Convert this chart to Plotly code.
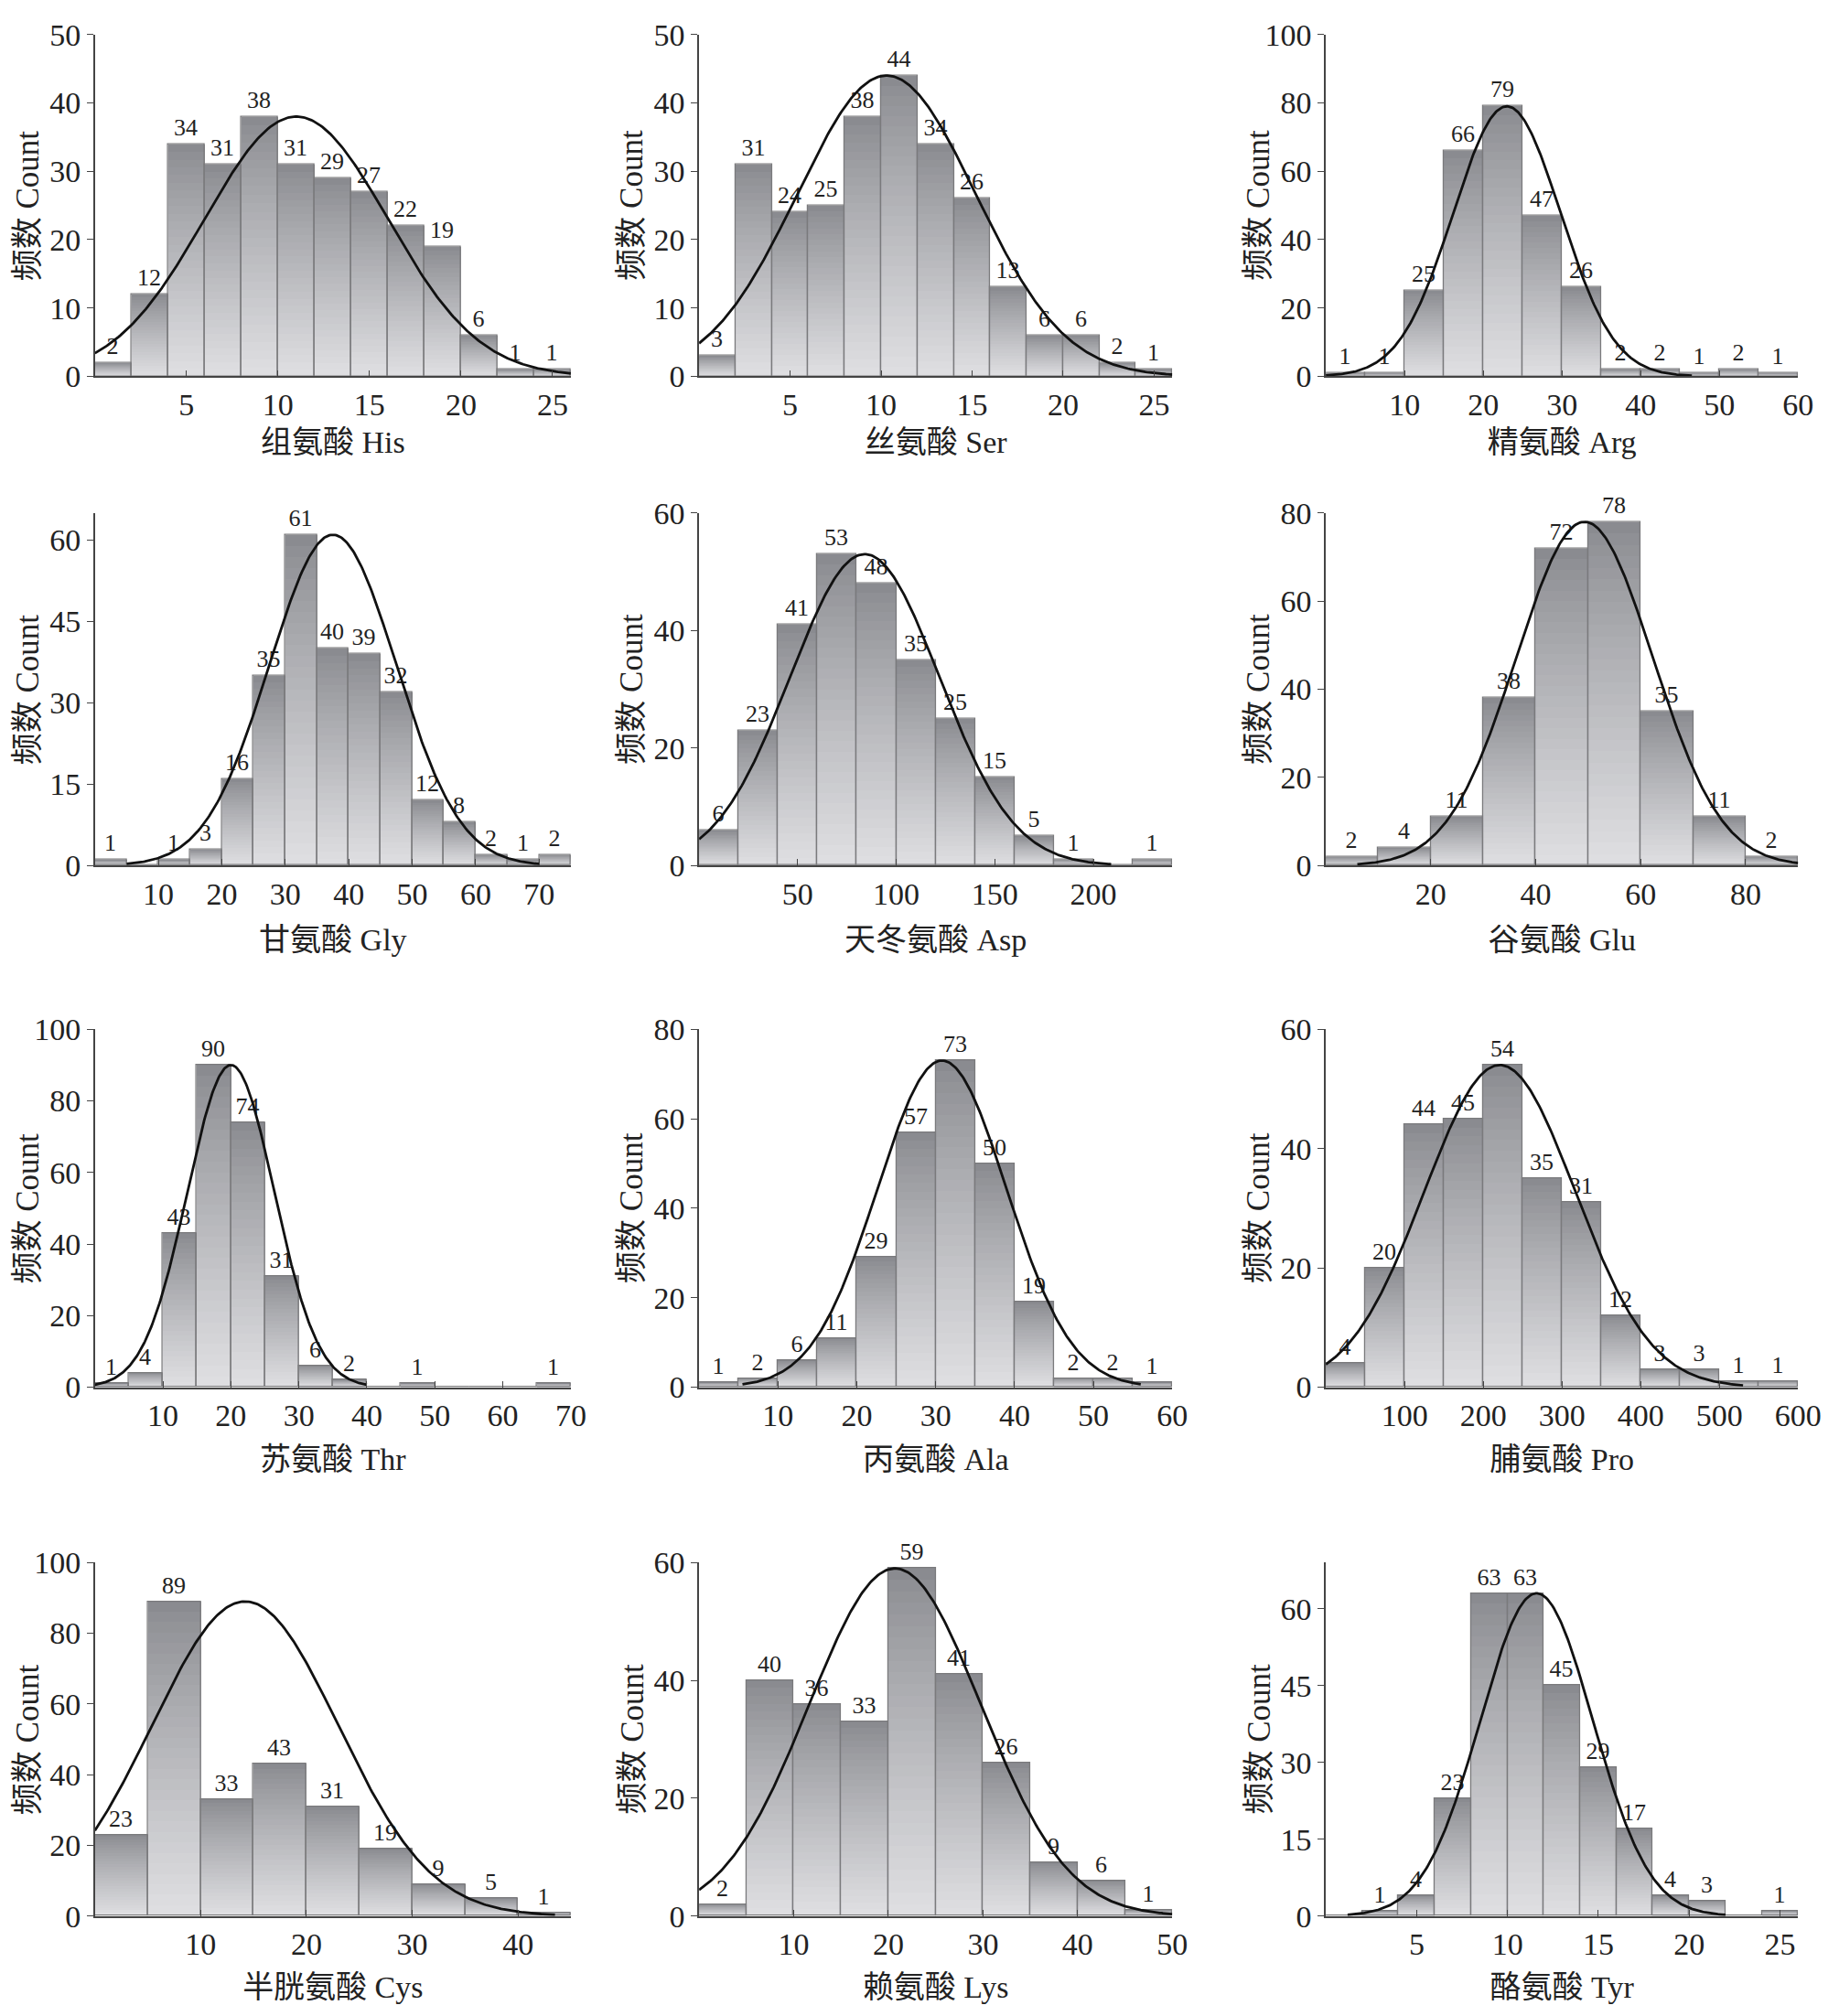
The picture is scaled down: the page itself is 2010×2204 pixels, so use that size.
import numpy as np
import plotly.graph_objects as go
from plotly.subplots import make_subplots

# counts per bin (bins start at 0)
his_counts = [2, 12, 34, 31, 38, 31, 29, 27, 22, 19, 6, 1, 1]
ser_counts = [3, 31, 24, 25, 38, 44, 34, 26, 13, 6, 6, 2, 1]
arg_counts = [1, 1, 25, 66, 79, 47, 26, 2, 2, 1, 2, 1]
gly_counts = [1, 0, 1, 3, 16, 35, 61, 40, 39, 32, 12, 8, 2, 1, 2]
asp_counts = [6, 23, 41, 53, 48, 35, 25, 15, 5, 1, 0, 1]
glu_counts = [2, 4, 11, 38, 72, 78, 35, 11, 2]
thr_counts = [1, 4, 43, 90, 74, 31, 6, 2, 0, 1, 0, 0, 0, 1]
ala_counts = [1, 2, 6, 11, 29, 57, 73, 50, 19, 2, 2, 1]
pro_counts = [4, 20, 44, 45, 54, 35, 31, 12, 3, 3, 1, 1]
cys_counts = [23, 89, 33, 43, 31, 19, 9, 5, 1]
lys_counts = [2, 40, 36, 33, 59, 41, 26, 9, 6, 1]
tyr_counts = [0, 1, 4, 23, 63, 63, 45, 29, 17, 4, 3, 0, 1]

bin_widths = [2, 2, 5, 5, 20, 10, 5, 5, 50, 5, 5, 2]

names = ["组氨酸 His", "丝氨酸 Ser", "精氨酸 Arg",
         "甘氨酸 Gly", "天冬氨酸 Asp", "谷氨酸 Glu",
         "苏氨酸 Thr", "丙氨酸 Ala", "脯氨酸 Pro",
         "半胱氨酸 Cys", "赖氨酸 Lys", "酪氨酸 Tyr"]

# normal curve drawn over each histogram: mean, sd, peak height, x start, x end
curve_mean = [11, 10.3, 23, 37.5, 84, 49.3, 20, 30.8, 221, 14.2, 20.7, 11.6]
curve_sd = [5.0, 4.9, 6.8, 10, 37.8, 13, 6.4, 8.2, 96, 8.8, 9.1, 3.1]
curve_peak = [38, 44, 79, 61, 53, 78, 90, 73, 54, 89, 59, 63]
curve_from = [0, 0, 0, 5, 0, 6, 0, 5.5, 0, 0, 0, 1.2]
curve_to = [26, 26, 46.5, 70, 209, 90, 40, 56, 530, 43.5, 50, 22]

x_max = [26, 26, 60, 75, 240, 90, 70, 60, 600, 45, 50, 26]
y_max = [50, 50, 100, 65, 60, 80, 100, 80, 60, 100, 60, 69]
x_ticks = [[5, 10, 15, 20, 25], [5, 10, 15, 20, 25], [10, 20, 30, 40, 50, 60],
           [10, 20, 30, 40, 50, 60, 70], [50, 100, 150, 200], [20, 40, 60, 80],
           [10, 20, 30, 40, 50, 60, 70], [10, 20, 30, 40, 50, 60],
           [100, 200, 300, 400, 500, 600], [10, 20, 30, 40],
           [10, 20, 30, 40, 50], [5, 10, 15, 20, 25]]
y_ticks = [[0, 10, 20, 30, 40, 50], [0, 10, 20, 30, 40, 50], [0, 20, 40, 60, 80, 100],
           [0, 15, 30, 45, 60], [0, 20, 40, 60], [0, 20, 40, 60, 80],
           [0, 20, 40, 60, 80, 100], [0, 20, 40, 60, 80], [0, 20, 40, 60],
           [0, 20, 40, 60, 80, 100], [0, 20, 40, 60], [0, 15, 30, 45, 60]]

all_counts = [his_counts, ser_counts, arg_counts, gly_counts, asp_counts, glu_counts,
              thr_counts, ala_counts, pro_counts, cys_counts, lys_counts, tyr_counts]

W, H = 2010, 2204
col_px = [(97, 624), (766, 1290), (1460, 1983)]
row_px = [(12, 392), (544, 936), (1118, 1516), (1711, 2104)]
xtitle_standoff = [11, 20, 18, 17]
YTITLE_GAP = 74

FONT = "Liberation Serif, Times New Roman, Noto Sans CJK SC, serif"
N_SEG = 30


def shade(t):
    # t = 0 at bar top (dark) .. 1 at bar bottom (light)
    top = np.array([138, 139, 144])
    bot = np.array([222, 222, 225])
    s = t ** 0.85
    c = top + (bot - top) * s
    return "rgb(%d,%d,%d)" % tuple(c.round())


fig = make_subplots(rows=4, cols=3)

for i, counts in enumerate(all_counts):
    r, c = i // 3 + 1, i % 3 + 1
    bw = bin_widths[i]
    counts = np.array(counts, dtype=float)
    centers = bw * (np.arange(len(counts)) + 0.5)

    # gradient: overlaid bars of shrinking height, darkest (tallest) first
    for k in range(N_SEG):
        frac = (N_SEG - k) / N_SEG
        fig.add_trace(go.Bar(
            x=centers, y=counts * frac, width=bw,
            marker=dict(color=shade(k / (N_SEG - 1)), line=dict(width=0)),
            hoverinfo="skip", showlegend=False), row=r, col=c)

    labels = [str(int(v)) if v > 0 else "" for v in counts]
    fig.add_trace(go.Bar(
        x=centers, y=counts, width=bw,
        marker=dict(color="rgba(0,0,0,0)", line=dict(color="#7a7a7c", width=1.3)),
        text=labels, textposition="outside", constraintext="none",
        textfont=dict(family=FONT, size=26, color="#222"),
        cliponaxis=False, showlegend=False), row=r, col=c)

    xs = np.linspace(curve_from[i], curve_to[i], 300)
    ys = curve_peak[i] * np.exp(-(xs - curve_mean[i]) ** 2 / (2 * curve_sd[i] ** 2))
    fig.add_trace(go.Scatter(
        x=xs, y=ys, mode="lines", line=dict(color="#111", width=2.8),
        hoverinfo="skip", showlegend=False), row=r, col=c)

    x0, x1 = col_px[c - 1]
    y0, y1 = row_px[r - 1]
    fig.update_xaxes(
        domain=[x0 / W, x1 / W], range=[0, x_max[i]],
        tickvals=x_ticks[i], ticks="inside", ticklen=7, tickcolor="#444",
        showline=True, linecolor="#444", linewidth=1.6, showgrid=False, zeroline=False,
        tickfont=dict(family=FONT, size=34, color="#222"),
        title=dict(text=names[i], font=dict(family=FONT, size=34, color="#222"),
                   standoff=xtitle_standoff[r - 1]),
        row=r, col=c)
    fig.update_yaxes(
        domain=[1 - y1 / H, 1 - y0 / H], range=[0, y_max[i]],
        tickvals=y_ticks[i], ticks="outside", ticklen=7, tickcolor="#444",
        showline=True, linecolor="#444", linewidth=1.6, showgrid=False, zeroline=False,
        tickfont=dict(family=FONT, size=34, color="#222"),
        row=r, col=c)

    # y title kept at a fixed distance from the axis line, as in the source figure
    fig.add_annotation(
        text="频数 Count", xref="paper", yref="paper",
        x=(x0 - YTITLE_GAP) / W, y=1 - (y0 + y1) / 2 / H,
        textangle=-90, showarrow=False, xanchor="center", yanchor="middle",
        font=dict(family=FONT, size=35, color="#222"))

fig.update_layout(
    width=W, height=H,
    margin=dict(l=0, r=0, t=0, b=0),
    barmode="overlay", bargap=0,
    plot_bgcolor="white", paper_bgcolor="white",
    showlegend=False,
)

fig.write_html("out.html")
